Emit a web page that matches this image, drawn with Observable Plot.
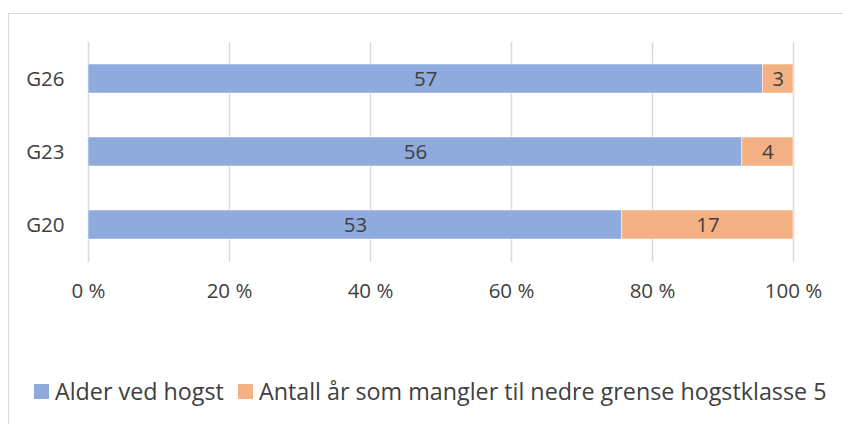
<!DOCTYPE html>
<html>
<head>
<meta charset="utf-8">
<script src="https://cdn.jsdelivr.net/npm/d3@7"></script>
<script src="https://cdn.jsdelivr.net/npm/@observablehq/plot@0.6"></script>
<style>
  body { margin: 0; background: #fff; }
  #wrap { position: relative; width: 843px; height: 424px; overflow: hidden; font-family: "Open Sans", sans-serif; color: #404040; }
  #frame { position: absolute; left: 8px; top: 13px; width: 900px; height: 500px; border: 1.5px solid #d9d9d9; box-sizing: border-box; }
  #chart { position: absolute; left: 0; top: 0; }
  #legend { position: absolute; left: 34px; top: 375px; display: flex; align-items: center; font-size: 23.3px; white-space: nowrap; }
  .sw { width: 15px; height: 15px; display: inline-block; margin-right: 6px; }
  .item { display: flex; align-items: center; margin-right: 14px; }
</style>
</head>
<body>
<div id="wrap">
  <div id="frame"></div>
  <div id="chart"></div>
  <div id="legend"></div>
</div>
<script>
const categories = ["G26", "G23", "G20"];
const seriesNames = ["Alder ved hogst", "Antall år som mangler til nedre grense hogstklasse 5"];
const alderVedHogst = [57.4, 56.3, 53.0];
const antallAar = [2.6, 4.4, 17.0];
const xTicks = [0, 0.2, 0.4, 0.6, 0.8, 1];
const colors = ["#8FAADC", "#F4B183"];

const data = [];
categories.forEach((c, i) => {
  data.push({cat: c, series: seriesNames[0], value: alderVedHogst[i]});
  data.push({cat: c, series: seriesNames[1], value: antallAar[i]});
});

const stackOpts = {x: "value", y: "cat", z: "series", offset: "normalize"};
const fs = 20.5;

const chart = Plot.plot({
  width: 843,
  height: 320,
  marginLeft: 88,
  marginRight: 50,
  marginTop: 42,
  marginBottom: 58,
  style: {fontFamily: "Open Sans, sans-serif", fontSize: fs + "px", color: "#404040", background: "transparent"},
  x: {domain: [0, 1], ticks: xTicks, tickFormat: d => `${Math.round(d * 100)} %`, grid: false, label: null},
  y: {domain: categories, paddingInner: 0.6, paddingOuter: 0.3, label: null},
  color: {domain: seriesNames, range: colors},
  marks: [
    Plot.ruleX(xTicks, {stroke: "#d9d9d9", strokeWidth: 1.5, strokeOpacity: 1}),
    Plot.barX(data, Plot.stackX({...stackOpts, fill: "series", stroke: "white", strokeWidth: 0.5})),
    Plot.text(data, Plot.stackX({...stackOpts, text: d => String(Math.round(d.value)), fill: "#404040", fontSize: fs})),
    Plot.axisX({ticks: xTicks, tickFormat: d => `${Math.round(d * 100)} %`, tickSize: 0, tickPadding: 21, label: null, fontSize: fs}),
    Plot.axisY({tickSize: 0, tickPadding: 24, label: null, fontSize: fs})
  ]
});
document.getElementById("chart").appendChild(chart);

const legend = document.getElementById("legend");
seriesNames.forEach((s, i) => {
  const item = document.createElement("span");
  item.className = "item";
  const sw = document.createElement("span");
  sw.className = "sw";
  sw.style.background = colors[i];
  item.appendChild(sw);
  item.appendChild(document.createTextNode(s));
  legend.appendChild(item);
});
</script>
</body>
</html>
